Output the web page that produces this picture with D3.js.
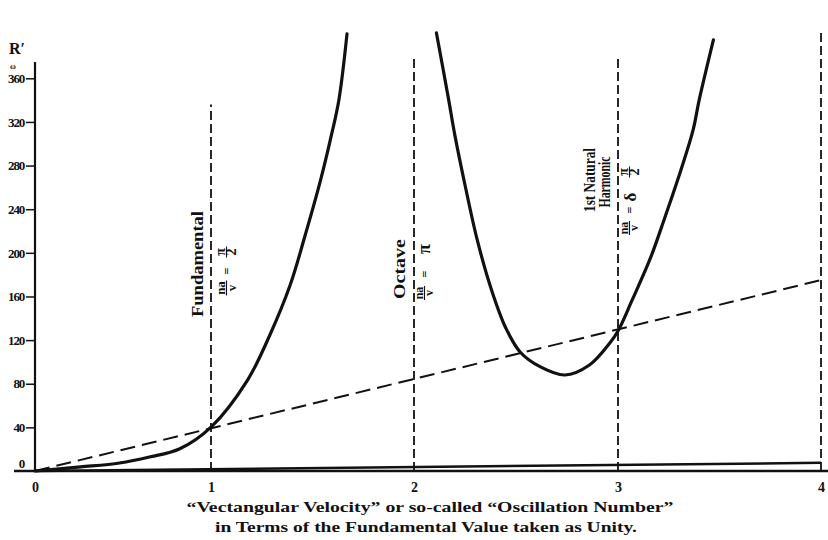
<!DOCTYPE html>
<html>
<head>
<meta charset="utf-8">
<script src="https://cdn.jsdelivr.net/npm/d3@7"></script>
<style>
  body { margin: 0; background: #fff; }
  text { font-family: "Liberation Serif", "DejaVu Serif", serif; font-weight: bold; fill: #111; }
</style>
</head>
<body>
<div id="chart"></div>
<script>
// tick values
var xTicks = [0, 1, 2, 3, 4];
var yTicks = [0, 40, 80, 120, 160, 200, 240, 280, 320, 360];

// first branch, rising from the origin to the fundamental asymptote
var curve1X = [0, 0.26, 0.48, 0.65, 0.82, 1.0, 1.18, 1.29, 1.39, 1.46, 1.54, 1.59, 1.63, 1.67];
var curve1Y = [0, 3.7, 7.3, 12.8, 20.2, 40.3, 83.4, 124.7, 170.5, 213.6, 266.8, 305.3, 340.2, 400.7];

// second branch, the U between octave and harmonic
var curve2X = [2.11, 2.17, 2.2, 2.25, 2.31, 2.38, 2.45, 2.52, 2.62, 2.74, 2.86, 2.96, 3.0, 3.07, 3.16, 3.23, 3.31, 3.37, 3.4, 3.47];
var curve2Y = [401.6, 340.2, 308.1, 262.2, 211.8, 166.0, 131.1, 109.1, 95.4, 88.0, 97.2, 117.4, 128.4, 156.8, 195.3, 232.0, 276.0, 312.7, 340.2, 395.2];

// straight dashed line and the low solid line
var slopeX = [0, 4];
var slopeY = [0, 175];
var lowX = [0, 4];
var lowY = [0, 7.5];

// vertical dashed markers
var markerX = [1, 2, 3, 4];
var markerTop = [336, 380, 379, 404];

var width = 828, height = 540;

var svg = d3.select("#chart").append("svg")
    .attr("width", width)
    .attr("height", height);

// the printed scale is not quite even, so map each unit separately
var x = d3.scaleLinear()
    .domain([0, 1, 2, 3, 4])
    .range([35, 211, 414, 618, 821]);

var y = d3.scaleLinear()
    .domain([0, 360])
    .range([471, 78.3]);

var line = d3.line()
    .x(d => x(d[0]))
    .y(d => y(d[1]));

var smooth = d3.line()
    .x(d => x(d[0]))
    .y(d => y(d[1]))
    .curve(d3.curveCatmullRom.alpha(0.5));

// y axis
var yAxis = svg.append("g")
    .attr("transform", "translate(35,0)")
    .call(d3.axisLeft(y).tickValues(yTicks).tickSize(9).tickPadding(2).tickSizeOuter(0));
yAxis.select(".domain").remove();
yAxis.selectAll("line").attr("stroke", "#111").attr("stroke-width", 1.5);
yAxis.selectAll("text")
    .attr("font-size", 13)
    .attr("letter-spacing", -1.2)
    .style("font-family", "'Liberation Serif', serif")
    .style("font-weight", "bold")
    .attr("fill", "#111");
yAxis.selectAll(".tick").filter(d => d === 0).select("line").remove();
yAxis.selectAll(".tick").filter(d => d === 0).select("text").attr("dy", "-0.3em").attr("x", -11);

svg.append("line")
    .attr("x1", 35).attr("x2", 35)
    .attr("y1", y(0)).attr("y2", 62)
    .attr("stroke", "#111").attr("stroke-width", 2.2);

// x axis
var xAxis = svg.append("g")
    .attr("transform", "translate(0," + y(0) + ")")
    .call(d3.axisBottom(x).tickValues(xTicks).tickSize(0).tickPadding(11).tickFormat(d3.format("d")));
xAxis.select(".domain").remove();
xAxis.selectAll("text")
    .attr("font-size", 14)
    .style("font-family", "'Liberation Serif', serif")
    .style("font-weight", "bold")
    .attr("fill", "#111");

svg.append("line")
    .attr("x1", 14).attr("x2", 828)
    .attr("y1", y(0)).attr("y2", y(0))
    .attr("stroke", "#111").attr("stroke-width", 2.5);

// R' label
svg.append("text").attr("x", 9).attr("y", 54).attr("font-size", 16).text("R′");
svg.append("text").attr("x", 10).attr("y", 69).attr("font-size", 8).text("ω");

// vertical dashed markers
svg.selectAll(".marker")
    .data(markerX)
    .join("line")
    .attr("class", "marker")
    .attr("x1", d => x(d)).attr("x2", d => x(d))
    .attr("y1", y(0)).attr("y2", (d, i) => y(markerTop[i]))
    .attr("stroke", "#111")
    .attr("stroke-width", 1.8)
    .attr("stroke-dasharray", "9,4");

// sloping dashed line
svg.append("path")
    .datum(slopeX.map((v, i) => [v, slopeY[i]]))
    .attr("d", line)
    .attr("fill", "none")
    .attr("stroke", "#111")
    .attr("stroke-width", 2)
    .attr("stroke-dasharray", "15,7");

// low solid line
svg.append("path")
    .datum(lowX.map((v, i) => [v, lowY[i]]))
    .attr("d", line)
    .attr("fill", "none")
    .attr("stroke", "#111")
    .attr("stroke-width", 2.5);

// the two curves
[[curve1X, curve1Y], [curve2X, curve2Y]].forEach(function(c) {
    svg.append("path")
        .datum(c[0].map((v, i) => [v, c[1][i]]))
        .attr("d", smooth)
        .attr("fill", "none")
        .attr("stroke", "#111")
        .attr("stroke-width", 3.2)
        .attr("stroke-linecap", "round");
});

// rotated labels: group at (screen x, 0) turned -90, so local x = -screen y
function rotGroup(sx) {
    return svg.append("g").attr("transform", "translate(" + sx + ",0) rotate(-90)");
}
function vtext(sx, sy, str, size, len) {
    var t = rotGroup(sx).append("text")
        .attr("x", -sy).attr("y", 0)
        .attr("text-anchor", "middle")
        .attr("font-size", size)
        .text(str);
    if (len) t.attr("textLength", len).attr("lengthAdjust", "spacingAndGlyphs");
}
// fraction with its bar at screen x = bx, centred on screen y = sy
function vfrac(bx, sy, num, den, size, w) {
    var g = rotGroup(bx);
    g.append("text").attr("x", -sy).attr("y", -1.6).attr("text-anchor", "middle").attr("font-size", size).text(num);
    g.append("line").attr("x1", -sy - w / 2).attr("x2", -sy + w / 2).attr("y1", 0).attr("y2", 0)
        .attr("stroke", "#111").attr("stroke-width", 1.1);
    g.append("text").attr("x", -sy).attr("y", size * 0.7).attr("text-anchor", "middle").attr("font-size", size).text(den);
}
function vsym(bx, sy, str, size, dy) {
    rotGroup(bx).append("text").attr("x", -sy).attr("y", dy).attr("text-anchor", "middle").attr("font-size", size).text(str);
}

// Fundamental
vtext(203, 264, "Fundamental", 16, 106);
vfrac(226.5, 288, "na", "v", 13, 15);
vsym(226.5, 271, "=", 12, 4);
vfrac(226.5, 252, "π", "2", 14, 11);

// Octave
vtext(405, 269, "Octave", 16, 60);
vfrac(424.5, 293, "na", "v", 12, 14);
vsym(424.5, 274, "=", 12, 4);
vsym(424.5, 249, "π", 18, 5);

// 1st Natural Harmonic
vtext(595, 180, "1st Natural", 17, 64);
vtext(610, 182, "Harmonic", 17, 51);
vfrac(629.5, 228, "na", "v", 12, 14);
vsym(629.5, 210, "=", 12, 4);
vsym(629.5, 197, "δ", 17, 6);
vfrac(629.5, 172, "π", "2", 14, 11);

// x axis title
svg.append("text")
    .attr("x", 430).attr("y", 512)
    .attr("text-anchor", "middle")
    .attr("font-size", 15)
    .attr("textLength", 487).attr("lengthAdjust", "spacingAndGlyphs")
    .text("“Vectangular Velocity” or so-called “Oscillation Number”");
svg.append("text")
    .attr("x", 426).attr("y", 532)
    .attr("text-anchor", "middle")
    .attr("font-size", 15)
    .attr("textLength", 422).attr("lengthAdjust", "spacingAndGlyphs")
    .text("in Terms of the Fundamental Value taken as Unity.");
</script>
</body>
</html>
